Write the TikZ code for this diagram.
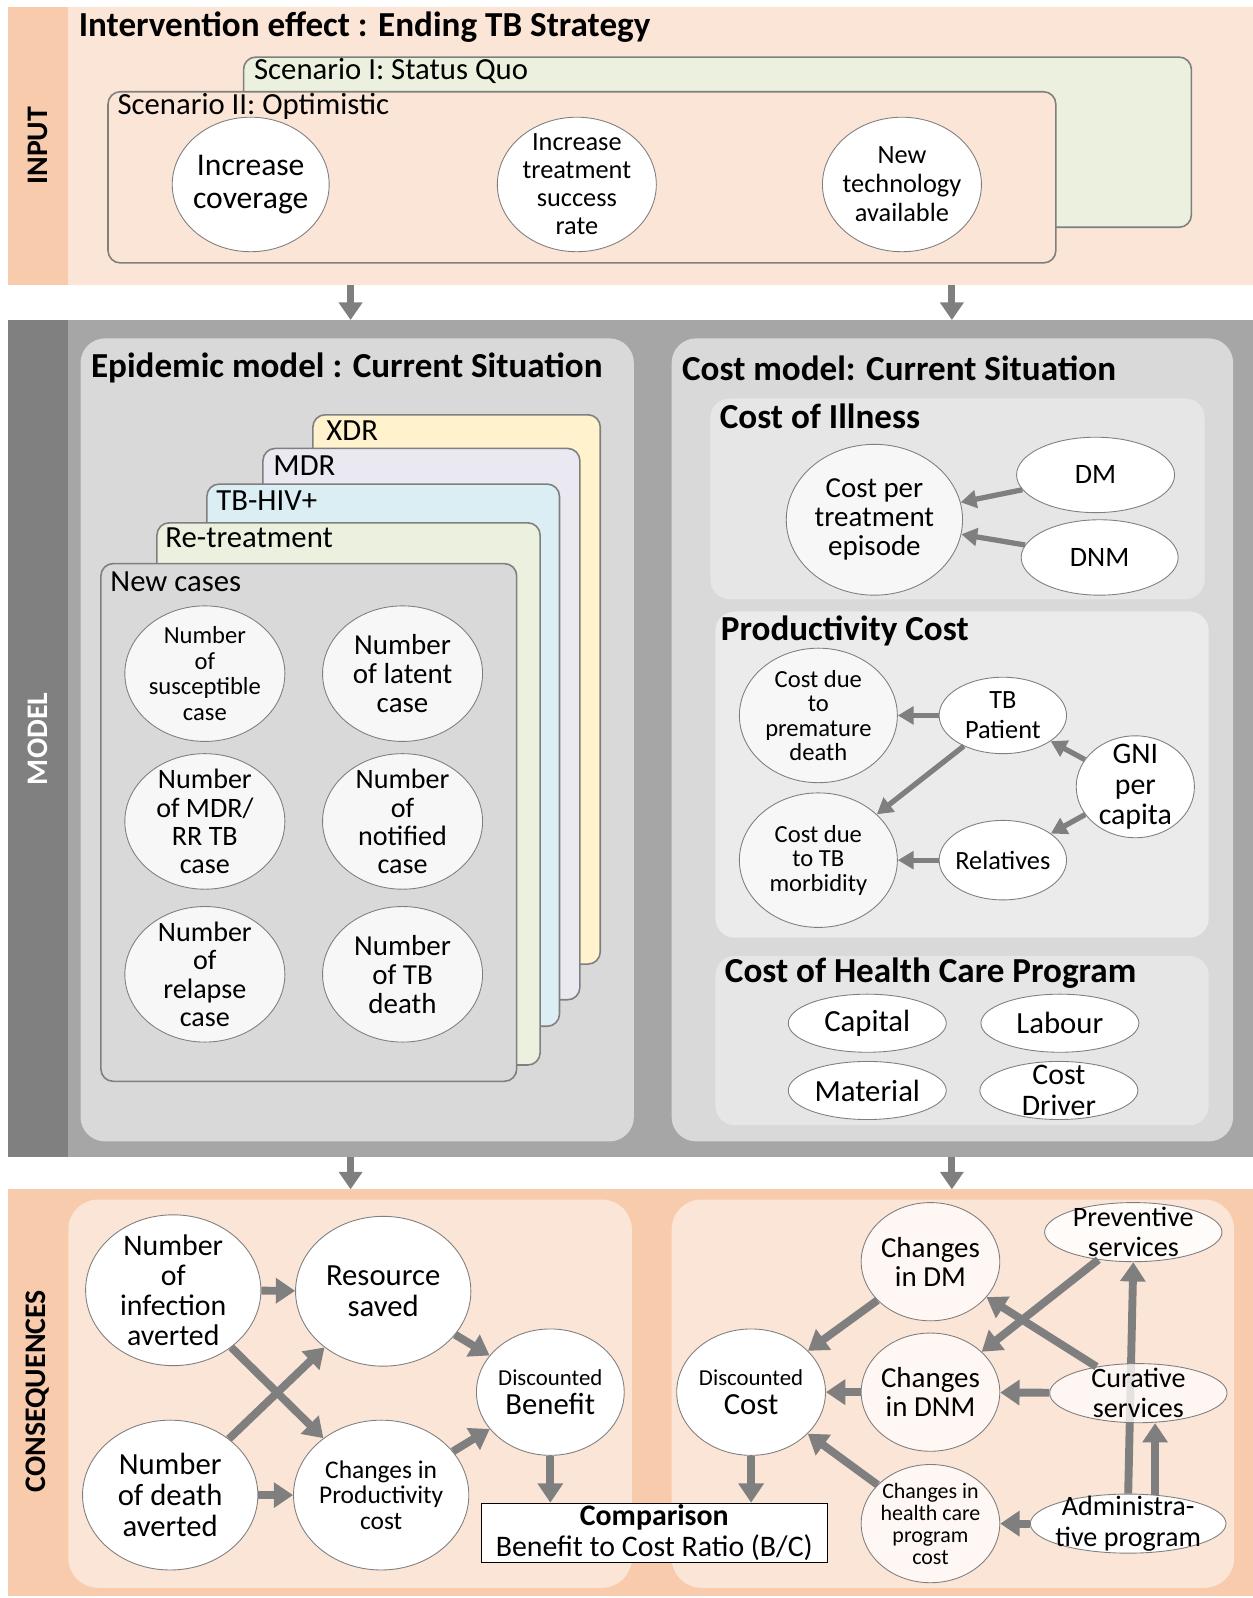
\documentclass[tikz,border=0pt]{standalone}
\usepackage{fontspec}
\setmainfont{Carlito}
\usetikzlibrary{arrows.meta}
\usetikzlibrary{shapes.geometric}
\usetikzlibrary{calc}

\definecolor{inbg}{HTML}{FBE5D6}
\definecolor{instrip}{HTML}{F8CBAD}
\definecolor{modbg}{HTML}{A6A6A6}
\definecolor{modstrip}{HTML}{808080}
\definecolor{panel}{HTML}{D9D9D9}
\definecolor{subpanel}{HTML}{E6E6E6}
\definecolor{sqgreen}{HTML}{EBF1DE}
\definecolor{xdrcol}{HTML}{FFF2CC}
\definecolor{mdrcol}{HTML}{EAE8F1}
\definecolor{hivcol}{HTML}{DAEEF3}
\definecolor{linegray}{HTML}{7F7F7F}
\definecolor{arrowgray}{HTML}{7F7F7F}

\newcommand\fs[2]{\fontsize{#1}{#2}\selectfont}

\tikzset{
  seclabel/.style={rotate=90, inner sep=0pt, font=\bfseries\fs{17}{18}},
  head/.style={anchor=west, inner sep=0pt, font=\bfseries\fs{20}{22}},
  scen/.style={anchor=west, inner sep=0pt, font=\fs{17.5}{19}},
  box/.style={draw=linegray, line width=0.9pt, rounded corners=7pt},
  bub/.style 2 args={ellipse, draw=linegray, fill=white, line width=0.5pt,
    minimum width=#1*0.0204cm, minimum height=#2*0.0204cm, inner sep=0pt},
  lab/.style={align=center, inner sep=0pt},
  bigflow/.style={draw=arrowgray, line width=4pt, -{Triangle[length=10pt,width=13pt]}},
  flow/.style={draw=arrowgray, line width=4.5pt, -{Triangle[length=11pt,width=14pt]}},
  thinflow/.style={draw=arrowgray, line width=3pt, -{Triangle[length=9pt,width=10pt]}}
}

\begin{document}
\begin{tikzpicture}[x=0.0204cm,y=-0.0204cm]
\useasboundingbox (0,0) rectangle (1229,1568);

% INPUT
\fill[inbg] (8,7) rectangle (1229,280);
\fill[instrip] (8,7) rectangle (67,280);
\node[seclabel] (inlab) at (37,143) {INPUT};
\node[head] (intitle) at (77,27) {Intervention effect : Ending TB Strategy};

\filldraw[box, fill=sqgreen] (239,56) rectangle (1169,223);
\node[scen] (sc1) at (249,70) {Scenario I: Status Quo};
\filldraw[box, fill=inbg] (106,90) rectangle (1036,258);
\node[scen] (sc2) at (115,104) {Scenario II: Optimistic};

\node[bub={154}{132}, label={[lab,font=\fs{18}{19}]center:Increase\\coverage}] (cov) at (246,181) {};
\node[bub={156}{132}, label={[lab,font=\fs{15}{16}]center:Increase\\treatment\\success\\rate}] (tsr) at (566,181) {};
\node[bub={156}{132}, label={[lab,font=\fs{15}{16.5}]center:New\\technology\\available}] (tech) at (885,181) {};

\coordinate (inL) at (344,280);
\coordinate (inR) at (934,280);
\coordinate (moL) at (344,314);
\coordinate (moR) at (934,314);
\draw[bigflow] (inL) -- (moL);
\draw[bigflow] (inR) -- (moR);

% MODEL
\fill[modbg] (8,314) rectangle (1229,1135);
\fill[modstrip] (8,314) rectangle (67,1135);
\node[seclabel, text=white] (molab) at (37,725) {MODEL};

\fill[panel, rounded corners=14pt] (79,332) rectangle (622,1120);
\fill[panel, rounded corners=14pt] (659,332) rectangle (1210,1120);
\node[head] (epititle) at (89,361) {Epidemic model : Current Situation};
\node[head] (costtitle) at (669,361) {Cost model: Current Situation};

% stacked cards
\filldraw[box, fill=xdrcol] (307,407) rectangle (589,946);
\node[scen] (xdr) at (320,423) {XDR};
\filldraw[box, fill=mdrcol] (258,440) rectangle (569,981);
\node[scen] (mdr) at (268,457) {MDR};
\filldraw[box, fill=hivcol] (203,475) rectangle (549,1007);
\node[scen] (hiv) at (212,491) {TB-HIV+};
\filldraw[box, fill=sqgreen] (154,513) rectangle (530,1045);
\node[scen] (ret) at (162,528) {Re-treatment};
\filldraw[box, fill=panel] (99,553) rectangle (507,1061);
\node[scen] (new) at (108,571) {New cases};

\node[bub={157}{133}, fill=white!97!black, label={[lab,font=\fs{14}{14.5}]center:Number\\of\\susceptible\\case}] (sus) at (201,661) {};
\node[bub={157}{133}, fill=white!97!black, label={[lab,font=\fs{16.5}{16.5}]center:Number\\of latent\\case}] (lat) at (395,661) {};
\node[bub={157}{133}, fill=white!97!black, label={[lab,font=\fs{16}{16}]center:Number\\of MDR/\\RR TB\\case}] (rr) at (201,806) {};
\node[bub={157}{133}, fill=white!97!black, label={[lab,font=\fs{16}{16}]center:Number\\of\\notified\\case}] (not) at (395,806) {};
\node[bub={157}{133}, fill=white!97!black, label={[lab,font=\fs{16}{16}]center:Number\\of\\relapse\\case}] (rel) at (201,956) {};
\node[bub={157}{133}, fill=white!97!black, label={[lab,font=\fs{16.5}{16.5}]center:Number\\of TB\\death}] (dth) at (395,956) {};

% cost of illness
\fill[subpanel, rounded corners=11pt] (697,391) rectangle (1182,588);
\node[head] (coi) at (706,408) {Cost of Illness};
\node[bub={173}{148}, fill=white!97!black, label={[lab,font=\fs{16.5}{16.5}]center:Cost per\\treatment\\episode}] (cpe) at (858,510) {};
\node[bub={155}{74}, label={[lab,font=\fs{16}{18}]center:DM}] (dm) at (1075,466) {};
\node[bub={154}{74}, label={[lab,font=\fs{16}{18}]center:DNM}] (dnm) at (1079,547) {};
\draw[thinflow] (dm) -- (cpe);
\draw[thinflow] (dnm) -- (cpe);

% productivity cost
\fill[white!92!black, rounded corners=11pt] (702,600) rectangle (1186,920);
\node[head] (prc) at (707,619) {Productivity Cost};
\node[bub={155}{132}, fill=white!97!black, label={[lab,font=\fs{14}{14}]center:Cost due\\to\\premature\\death}] (prem) at (803,702) {};
\node[bub={125}{75}, label={[lab,font=\fs{15}{17}]center:TB\\Patient}] (tbp) at (984,702) {};
\node[bub={116}{100}, label={[lab,font=\fs{17}{17.5}]center:GNI\\per\\capita}] (gni) at (1114,772) {};
\node[bub={155}{132}, fill=white!97!black, label={[lab,font=\fs{14}{14}]center:Cost due\\to TB\\morbidity}] (morb) at (803,844) {};
\node[bub={125}{78}, label={[lab,font=\fs{15}{17}]center:Relatives}] (rela) at (984,844) {};
\draw[thinflow] (tbp) -- (prem);
\draw[thinflow] (tbp) -- (morb);
\draw[thinflow] (gni) -- (tbp);
\draw[thinflow] (gni) -- (rela);
\draw[thinflow] (rela) -- (morb);

% cost of health care program
\fill[subpanel, rounded corners=11pt] (702,938) rectangle (1186,1104);
\node[head] (hcp) at (711,955) {Cost of Health Care Program};
\node[bub={155}{57}, label={[lab,font=\fs{17.5}{18}]center:Capital}] (cap) at (851,1004) {};
\node[bub={155}{57}, label={[lab,font=\fs{17.5}{18}]center:Labour}] (lab) at (1040,1004) {};
\node[bub={155}{57}, label={[lab,font=\fs{17.5}{18}]center:Material}] (mat) at (851,1070) {};
\node[bub={155}{57}, label={[lab,font=\fs{17}{17.5}]center:Cost\\Driver}] (drv) at (1039,1070) {};

\coordinate (moL2) at (344,1135);
\coordinate (moR2) at (934,1135);
\coordinate (coL) at (344,1167);
\coordinate (coR) at (934,1167);
\draw[bigflow] (moL2) -- (coL);
\draw[bigflow] (moR2) -- (coR);

% CONSEQUENCES
\fill[instrip] (8,1167) rectangle (1229,1566);
\node[seclabel] (colab) at (37,1365) {CONSEQUENCES};
\fill[inbg, rounded corners=17pt] (67,1177) rectangle (620,1558);
\fill[inbg, rounded corners=17pt] (659,1177) rectangle (1211,1558);

\node[bub={172}{148}, label={[lab,font=\fs{17}{17}]center:Number\\of\\infection\\averted}] (inf) at (170,1266) {};
\node[bub={172}{147}, label={[lab,font=\fs{17.5}{17.5}]center:Resource\\saved}] (res) at (376,1267) {};
\node[bub={145}{124}, label={[lab,font=\fs{17.5}{17}]center:{\fs{13}{14}Discounted}\\Benefit}] (ben) at (540,1366) {};
\node[bub={172}{147}, label={[lab,font=\fs{17.5}{17.5}]center:Number\\of death\\averted}] (dea) at (167,1467) {};
\node[bub={172}{147}, label={[lab,font=\fs{14.5}{14.5}]center:Changes in\\Productivity\\cost}] (pro) at (374,1467) {};
\node[draw=black, fill=white, line width=0.6pt, minimum width=339*0.0204cm, minimum height=58*0.0204cm,
  align=center, inner sep=0pt, font=\fs{17}{17.5}] (cmp) at (642,1504) {\textbf{Comparison}\\Benefit to Cost Ratio (B/C)};

\draw[flow] (inf) -- (res);
\draw[flow] (inf) -- (pro);
\draw[flow] (dea) -- (res);
\draw[flow] (dea) -- (pro);
\draw[flow] (res) -- (ben);
\draw[flow] (pro) -- (ben);
\draw[flow] (ben.south) -- (ben.south |- cmp.north);

\node[bub={136}{116}, fill=white!70!inbg, label={[lab,font=\fs{16.5}{16.5}]center:Changes\\in DM}] (cdm) at (913,1238) {};
\node[bub={174}{58}, fill=white!85!inbg, label={[lab,font=\fs{16}{17}]center:Preventive\\services}] (pre) at (1112,1209) {};
\node[bub={146}{124}, label={[lab,font=\fs{17.5}{17}]center:{\fs{13}{14}Discounted}\\Cost}] (dco) at (737,1366) {};
\node[bub={136}{116}, fill=white!70!inbg, label={[lab,font=\fs{16.5}{16.5}]center:Changes\\in DNM}] (cdnm) at (913,1366) {};
\node[bub={136}{116}, fill=white!70!inbg, label={[lab,font=\fs{12.5}{12.5}]center:Changes in\\health care\\program\\cost}] (chc) at (913,1495) {};
\node[bub={192}{58}, label={[lab,font=\fs{16}{18}]center:Administra-\\tive program}] (adm) at (1107,1495) {};
\draw[flow] (adm.north) -- (pre.south);
\node[bub={174}{58}, fill=white!85!inbg, fill opacity=0.8, text opacity=1,
  label={[lab,font=\fs{16}{17}]center:Curative\\services}] (cur) at (1117,1367) {};

\draw[flow] (cdm) -- (dco);
\draw[flow] (cdnm) -- (dco);
\draw[flow] (chc) -- (dco);
\draw[flow] (pre) -- (cdnm);
\draw[flow] (cur) -- (cdm);
\draw[flow] (cur) -- (cdnm);
\draw[flow] (adm) -- (chc);
\draw[flow] (adm.47) -- (adm.47 |- cur.south);
\draw[flow] (dco.south) -- (dco.south |- cmp.north);

\end{tikzpicture}
\end{document}
